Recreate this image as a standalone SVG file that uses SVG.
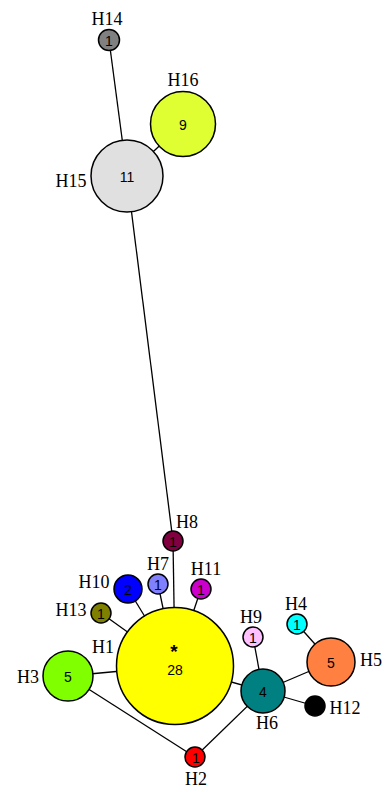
<svg xmlns="http://www.w3.org/2000/svg" width="386" height="792" viewBox="0 0 386 792">
  <style>
    .bg { fill: #ffffff; }
    .edge { stroke: #000000; stroke-width: 1.3; fill: none; }
    .node circle { stroke: #000000; stroke-width: 1.5; }
    .num { font-family: "Liberation Sans", Arial, sans-serif; font-size: 14px; fill: #000000; text-anchor: middle; dominant-baseline: central; }
    .hub { font-family: "Liberation Sans", Arial, sans-serif; font-size: 14px; fill: #000000; text-anchor: middle; }
    .star { font-family: "Liberation Sans", Arial, sans-serif; font-size: 19px; font-weight: bold; fill: #000000; text-anchor: middle; }
    .lbl { font-family: "Liberation Serif", "Times New Roman", serif; font-size: 18px; fill: #000000; text-anchor: middle; dominant-baseline: central; }
  </style>
  <rect class="bg" x="0" y="0" width="386" height="792"/>

  <g id="connectors">
    <line class="edge" x1="109" y1="40" x2="127" y2="176"/>
    <line class="edge" x1="183" y1="124" x2="127" y2="176"/>
    <line class="edge" x1="127" y1="176" x2="173" y2="541"/>
    <line class="edge" x1="173" y1="541" x2="175" y2="666"/>
    <line class="edge" x1="158" y1="584" x2="175" y2="666"/>
    <line class="edge" x1="128" y1="589" x2="175" y2="666"/>
    <line class="edge" x1="201" y1="589" x2="175" y2="666"/>
    <line class="edge" x1="101" y1="613" x2="175" y2="666"/>
    <line class="edge" x1="68" y1="676" x2="175" y2="666"/>
    <line class="edge" x1="68" y1="676" x2="195" y2="757"/>
    <line class="edge" x1="195" y1="757" x2="263" y2="691"/>
    <line class="edge" x1="175" y1="666" x2="263" y2="691"/>
    <line class="edge" x1="253" y1="637" x2="263" y2="691"/>
    <line class="edge" x1="263" y1="691" x2="331" y2="662"/>
    <line class="edge" x1="297" y1="624" x2="331" y2="662"/>
    <line class="edge" x1="263" y1="691" x2="315" y2="706"/>
  </g>

  <g id="H14" class="node">
    <circle cx="109" cy="40" r="10.5" fill="#808080"/>
    <text class="num" x="109" y="40.5">1</text>
    <text class="lbl" x="107" y="19">H14</text>
  </g>
  <g id="H16" class="node">
    <circle cx="183" cy="124" r="32.5" fill="#e0ff33"/>
    <text class="num" x="183" y="124.5">9</text>
    <text class="lbl" x="183" y="80">H16</text>
  </g>
  <g id="H15" class="node">
    <circle cx="127" cy="176" r="36" fill="#e0e0e0"/>
    <text class="num" x="127" y="176.5">11</text>
    <text class="lbl" x="71" y="181">H15</text>
  </g>
  <g id="H8" class="node">
    <circle cx="173" cy="541" r="10" fill="#800040"/>
    <text class="num" x="173" y="541.5">1</text>
    <text class="lbl" x="187" y="522">H8</text>
  </g>
  <g id="H7" class="node">
    <circle cx="158" cy="584" r="10" fill="#8080ff"/>
    <text class="num" x="158" y="584.5">1</text>
    <text class="lbl" x="158" y="564">H7</text>
  </g>
  <g id="H10" class="node">
    <circle cx="128" cy="589" r="14" fill="#0000ff"/>
    <text class="num" x="128" y="589.5">2</text>
    <text class="lbl" x="94" y="582">H10</text>
  </g>
  <g id="H11" class="node">
    <circle cx="201" cy="589" r="10" fill="#cc00cc"/>
    <text class="num" x="201" y="589.5">1</text>
    <text class="lbl" x="206" y="569">H11</text>
  </g>
  <g id="H13" class="node">
    <circle cx="101" cy="613" r="10" fill="#808000"/>
    <text class="num" x="101" y="613.5">1</text>
    <text class="lbl" x="71" y="610">H13</text>
  </g>
  <g id="H1" class="node">
    <circle cx="175" cy="666" r="58.5" fill="#ffff00"/>
    <text class="star" x="174" y="658">*</text>
    <text class="hub" x="175" y="675">28</text>
    <text class="lbl" x="103" y="647">H1</text>
  </g>
  <g id="H3" class="node">
    <circle cx="68" cy="676" r="25" fill="#80ff00"/>
    <text class="num" x="68" y="676.5">5</text>
    <text class="lbl" x="28" y="677">H3</text>
  </g>
  <g id="H2" class="node">
    <circle cx="195" cy="757" r="10" fill="#ff0000"/>
    <text class="num" x="196" y="757.5">1</text>
    <text class="lbl" x="196" y="779">H2</text>
  </g>
  <g id="H6" class="node">
    <circle cx="263" cy="691" r="22" fill="#008080"/>
    <text class="num" x="263" y="691.5">4</text>
    <text class="lbl" x="267" y="723">H6</text>
  </g>
  <g id="H9" class="node">
    <circle cx="253" cy="637" r="10" fill="#ffc0ff"/>
    <text class="num" x="253" y="637.5">1</text>
    <text class="lbl" x="251" y="617">H9</text>
  </g>
  <g id="H4" class="node">
    <circle cx="297" cy="624" r="10" fill="#00ffff"/>
    <text class="num" x="297" y="624.5">1</text>
    <text class="lbl" x="296" y="604">H4</text>
  </g>
  <g id="H5" class="node">
    <circle cx="331" cy="662" r="24" fill="#ff8040"/>
    <text class="num" x="331" y="662.5">5</text>
    <text class="lbl" x="371" y="660">H5</text>
  </g>
  <g id="H12" class="node">
    <circle cx="315" cy="706" r="10" fill="#000000"/>
    <text class="lbl" x="345" y="708">H12</text>
  </g>
</svg>
